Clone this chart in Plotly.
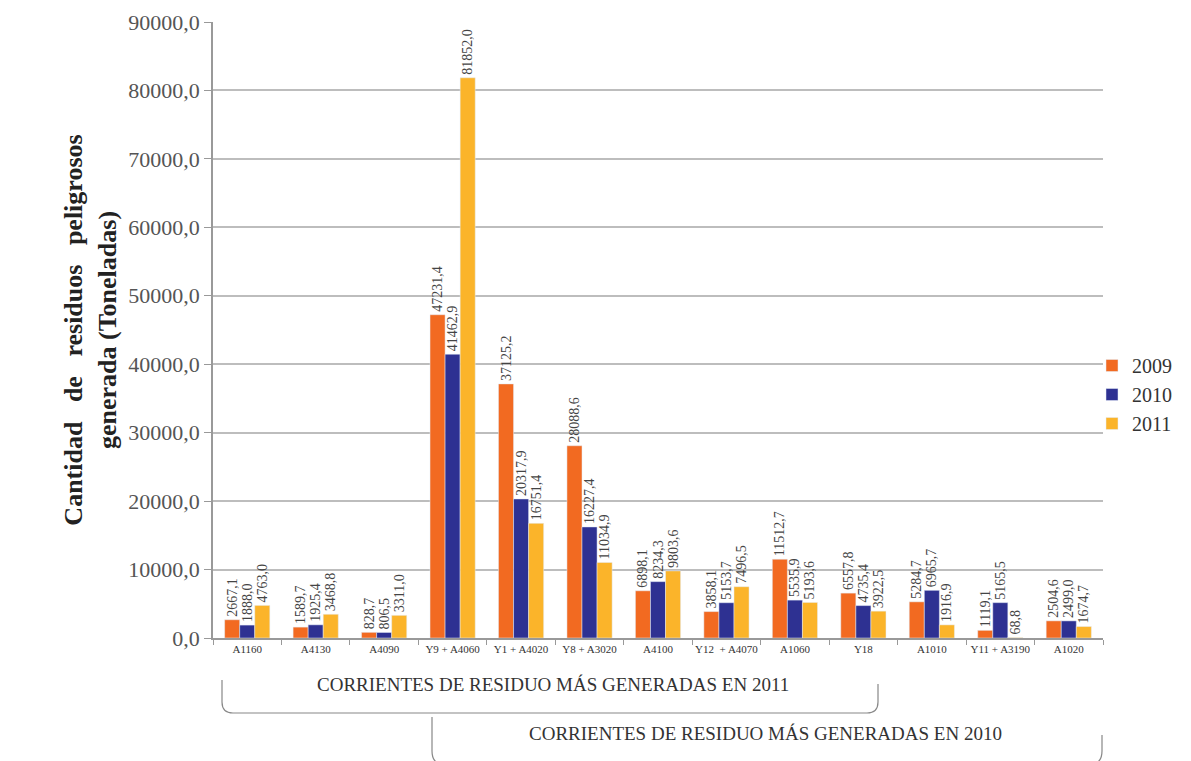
import plotly.graph_objects as go

# categorias y valores (toneladas)
categorias = ["A1160", "A4130", "A4090", "Y9 + A4060", "Y1 + A4020", "Y8 + A3020",
              "A4100", "Y12  + A4070", "A1060", "Y18", "A1010", "Y11 + A3190", "A1020"]
v2009 = [2667.1, 1589.7, 828.7, 47231.4, 37125.2, 28088.6, 6898.1, 3858.1,
         11512.7, 6557.8, 5284.7, 1119.1, 2504.6]
v2010 = [1888.0, 1925.4, 806.5, 41462.9, 20317.9, 16227.4, 8234.3, 5153.7,
         5535.9, 4735.4, 6965.7, 5165.5, 2499.0]
v2011 = [4763.0, 3468.8, 3311.0, 81852.0, 16751.4, 11034.9, 9803.6, 7496.5,
         5193.6, 3922.5, 1916.9, 68.8, 1674.7]
y_ticks = [0, 10000, 20000, 30000, 40000, 50000, 60000, 70000, 80000, 90000]

# the page puts the figure 8px in from the top-left corner
OFF = 8
W, H = 1191 - OFF, 761 - OFF
# plot area in screen pixels: x 213..1103, y 22..638
L, T = 213 - OFF, 22 - OFF
R = W - (1103 - OFF)
B = H - (638 - OFF)
FONT = "Times New Roman, Liberation Serif, serif"


def fmt(v):
    return f"{v:.1f}".replace(".", ",")


def px2paper(x, y):
    # screen pixel -> paper coordinates
    x, y = x - OFF, y - OFF
    return (x - L) / (W - L - R), (H - B - y) / (H - T - B)


fig = go.Figure()
for name, vals, col in [("2009", v2009, "#F26A21"),
                        ("2010", v2010, "#2E3192"),
                        ("2011", v2011, "#FBB42A")]:
    fig.add_trace(go.Bar(
        x=categorias, y=vals, name=name, marker_color=col,
        text=[fmt(v) for v in vals], textposition="outside", textangle=-90,
        constraintext="none", cliponaxis=False,
        textfont=dict(family=FONT, size=14, color="#444"),
    ))


def bracket(x0, x1, ytop, ybot, r=10, ytop2=None):
    if ytop2 is None:
        ytop2 = ytop
    a = px2paper(x0, ytop)
    b = px2paper(x0, ybot - r)
    c = px2paper(x0 + r, ybot)
    d = px2paper(x1 - r, ybot)
    e = px2paper(x1, ybot - r)
    f = px2paper(x1, ytop2)
    k1 = px2paper(x0, ybot)
    k2 = px2paper(x1, ybot)
    return (f"M {a[0]},{a[1]} L {b[0]},{b[1]} Q {k1[0]},{k1[1]} {c[0]},{c[1]} "
            f"L {d[0]},{d[1]} Q {k2[0]},{k2[1]} {e[0]},{e[1]} L {f[0]},{f[1]}")


shapes = [
    dict(type="path", xref="paper", yref="paper",
         path=bracket(222, 878, 680, 713, r=11, ytop2=684),
         line=dict(color="#888", width=1.2)),
    dict(type="path", xref="paper", yref="paper",
         path=bracket(432, 1102, 717, 765, r=14, ytop2=735),
         line=dict(color="#888", width=1.2)),
]

tx1, ty1 = px2paper(553, 697)
tx2, ty2 = px2paper(765, 746)
annotations = [
    dict(x=tx1, y=ty1, xref="paper", yref="paper", showarrow=False,
         text="CORRIENTES DE RESIDUO MÁS GENERADAS EN 2011",
         font=dict(family=FONT, size=19, color="#333")),
    dict(x=tx2, y=ty2, xref="paper", yref="paper", showarrow=False,
         text="CORRIENTES DE RESIDUO MÁS GENERADAS EN 2010",
         font=dict(family=FONT, size=19, color="#333")),
]

lx, ly = px2paper(1092, 346)
fig.update_layout(
    width=W, height=H,
    margin=dict(l=L, r=R, t=T, b=B, autoexpand=False),
    plot_bgcolor="white", paper_bgcolor="white",
    barmode="group", bargap=0.34, bargroupgap=0,
    font=dict(family=FONT, color="#333"),
    shapes=shapes, annotations=annotations,
    legend=dict(x=lx, y=ly, xanchor="left", yanchor="top",
                font=dict(family=FONT, size=20, color="#333"),
                bgcolor="rgba(0,0,0,0)"),
    xaxis=dict(showline=True, linecolor="#999", linewidth=1.5, automargin=False,
               tickangle=0,
               ticks="outside", tickson="boundaries", ticklen=5, tickcolor="#999",
               tickfont=dict(family=FONT, size=11, color="#333")),
    yaxis=dict(range=[0, 90000], tickvals=y_ticks, automargin=False,
               ticktext=[fmt(v) for v in y_ticks],
               showline=True, linecolor="#999", linewidth=1.5,
               ticks="outside", ticklen=7, tickcolor="#999",
               showgrid=True, gridcolor="#BDBDBD", gridwidth=1.5,
               zeroline=False,
               tickfont=dict(family=FONT, size=22, color="#555"),
               title=dict(text="<b>Cantidad&nbsp;&nbsp; de&nbsp;&nbsp; residuos&nbsp;&nbsp; peligrosos<br>generada (Toneladas)</b>",
                          font=dict(family=FONT, size=26, color="#222"),
                          standoff=4)),
)

fig.write_html("out.html")
